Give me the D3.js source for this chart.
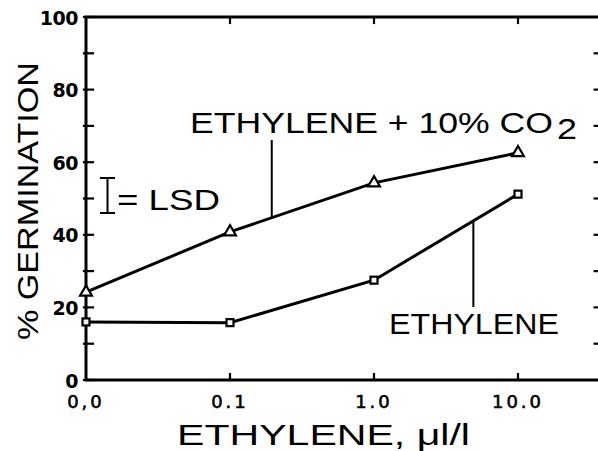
<!DOCTYPE html>
<html><head><meta charset="utf-8">
<script src="https://cdn.jsdelivr.net/npm/d3@7/dist/d3.min.js"></script>
<style>html,body{margin:0;padding:0;background:#fff;}svg{display:block;}</style>
</head><body>
<svg id="c" width="598" height="451"></svg>
<script>
const categories = ["0,0", "0.1", "1.0", "10.0"];
const co2Values = [24.2, 40.8, 54.3, 62.6];
const ethyleneValues = [16.0, 15.8, 27.5, 51.2];
const yTicks = [0, 20, 40, 60, 80, 100];
const yMinor = [10, 30, 50, 70, 90];

const svg = d3.select("#c");
const x = d3.scaleLinear().domain([0, 3]).range([86, 518]);
const y = d3.scaleLinear().domain([0, 100]).range([380, 17]);
const xRight = 3.56;
const FONT = "'DejaVu Sans', sans-serif";
const LFONT = "'Liberation Sans', sans-serif";

// frame
const g = svg.append("g").attr("stroke", "#000").attr("fill", "none").attr("stroke-linecap", "square");
g.append("path").attr("stroke-width", 3)
  .attr("d", `M${x(xRight)},${y(100)} L${x(0)},${y(100)} L${x(0)},${y(0)} L${x(xRight)},${y(0)}`);

// left ticks
yTicks.concat(yMinor).forEach(v => {
  g.append("line").attr("stroke-width", 2.2)
    .attr("x1", x(0) - 2).attr("x2", x(0) + 7).attr("y1", y(v)).attr("y2", y(v));
});
// right ticks (every 10)
d3.range(10, 100, 10).forEach(v => {
  g.append("line").attr("stroke-width", 2.2)
    .attr("x1", x(xRight) - 4).attr("x2", x(xRight) + 2).attr("y1", y(v)).attr("y2", y(v));
});
// top & bottom ticks
[1, 2, 3].forEach(i => {
  g.append("line").attr("stroke-width", 2.2).attr("x1", x(i)).attr("x2", x(i)).attr("y1", y(100)).attr("y2", y(100) + 6);
  g.append("line").attr("stroke-width", 2.2).attr("x1", x(i)).attr("x2", x(i)).attr("y1", y(0)).attr("y2", y(0) - 6);
});

// y tick labels
svg.append("g").selectAll("text").data(yTicks).join("text")
  .attr("x", 78).attr("y", d => y(d) + 7.5).attr("text-anchor", "end")
  .attr("font-family", FONT).attr("font-weight", "bold").attr("font-size", 19)
  .attr("letter-spacing", -0.5)
  .text(d => d);

// x tick labels
svg.append("g").selectAll("text").data(categories).join("text")
  .attr("x", (d, i) => x(i)).attr("y", 408).attr("text-anchor", "middle")
  .attr("font-family", FONT).attr("font-size", 18).attr("letter-spacing", 3)
  .attr("stroke", "#000").attr("stroke-width", 0.6)
  .text(d => d);

// lines
const line = d3.line().x((d, i) => x(i)).y(d => y(d));
svg.append("path").datum(co2Values).attr("d", line).attr("fill", "none").attr("stroke", "#000").attr("stroke-width", 3);
svg.append("path").datum(ethyleneValues).attr("d", line).attr("fill", "none").attr("stroke", "#000").attr("stroke-width", 3);

// markers
const tri = d3.symbol().type(d3.symbolTriangle).size(60);
svg.append("g").selectAll("path").data(co2Values).join("path")
  .attr("transform", (d, i) => `translate(${x(i)},${y(d)})`)
  .attr("d", tri).attr("fill", "#fff").attr("stroke", "#000").attr("stroke-width", 2.2);
svg.append("g").selectAll("rect").data(ethyleneValues).join("rect")
  .attr("x", (d, i) => x(i) - 3.5).attr("y", d => y(d) - 3.5).attr("width", 7).attr("height", 7)
  .attr("fill", "#fff").attr("stroke", "#000").attr("stroke-width", 2.2);

// leader lines
function interp(vals, t) { const i = Math.floor(t); const f = t - i; return vals[i] + (vals[i + 1] - vals[i]) * f; }
const l1 = 1.29, l2 = 2.69;
svg.append("line").attr("x1", x(l1)).attr("x2", x(l1)).attr("y1", 140).attr("y2", y(interp(co2Values, l1)))
  .attr("stroke", "#000").attr("stroke-width", 2);
svg.append("line").attr("x1", x(l2)).attr("x2", x(l2)).attr("y1", y(interp(ethyleneValues, l2))).attr("y2", 307)
  .attr("stroke", "#000").attr("stroke-width", 2);

// labels
const lab = (t, xx, yy, len, fs) => svg.append("text").attr("x", xx).attr("y", yy)
  .attr("font-family", LFONT).attr("font-size", fs).attr("textLength", len).attr("lengthAdjust", "spacingAndGlyphs").text(t);
lab("ETHYLENE + 10% CO", 190, 133, 363, 30);
lab("2", 557, 139, 20, 30);
lab("ETHYLENE", 389, 334, 170, 30);
lab("= LSD", 117, 210, 103, 30);
lab("ETHYLENE, μl/l", 177, 445, 293, 30);

// LSD bar
const lsd = svg.append("g").attr("stroke", "#000").attr("stroke-width", 2);
lsd.append("line").attr("x1", 107.5).attr("x2", 107.5).attr("y1", 178).attr("y2", 213);
lsd.append("line").attr("x1", 100).attr("x2", 115).attr("y1", 178).attr("y2", 178);
lsd.append("line").attr("x1", 100).attr("x2", 115).attr("y1", 213).attr("y2", 213);

// y axis title
svg.append("text").attr("transform", "translate(38,340) rotate(-90)")
  .attr("font-family", LFONT).attr("font-size", 30).attr("textLength", 278).attr("lengthAdjust", "spacingAndGlyphs")
  .text("% GERMINATION");
</script>
</body></html>
